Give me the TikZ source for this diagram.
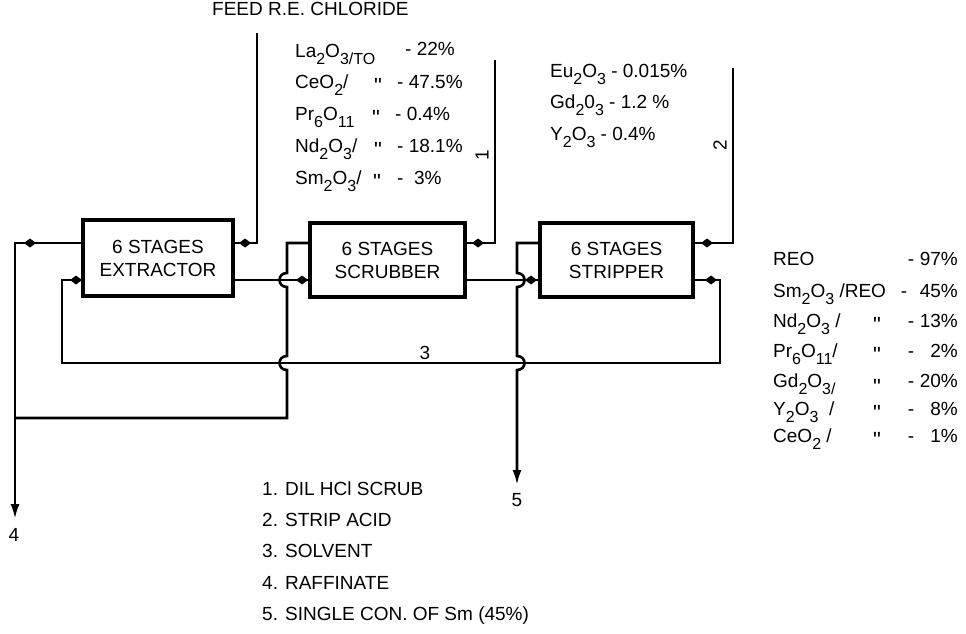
\documentclass[tikz,border=0pt]{standalone}
\usepackage{fontspec}
\setmainfont{Liberation Sans}
\usetikzlibrary{arrows.meta,calc}
\newcommand\sbs[1]{\raisebox{-0.36em}{\fontsize{16}{16}\selectfont #1}}
\newcommand\dit{\raisebox{-6.5pt}{\fontsize{22}{22}\selectfont\textquotedbl}}
\newcommand\fdot[1]{\fill #1 +(-6,0) -- +(0,-4.5) -- +(6,0) -- +(0,4.5) -- cycle;}
\tikzset{
  stage/.style={draw, line width=3.2pt, align=center, inner sep=0pt,
    font=\fontsize{19}{23}\selectfont},
  pipe/.style={line width=2.6pt},
  lbl/.style={inner sep=0pt, font=\fontsize{19}{23}\selectfont},
  endarrow/.style={-{Latex[length=15pt,width=9pt]}}
}
\begin{document}
\begin{tikzpicture}[x=1pt,y=-1pt]
\useasboundingbox (0,0) rectangle (966,634);
\fill[white] (0,0) rectangle (966,634);

% boxes
\node[stage, minimum width=150pt, minimum height=76pt] (ext) at (158,258) {6 STAGES\\EXTRACTOR};
\node[stage, minimum width=155pt, minimum height=74pt] (scr) at (387.5,260) {6 STAGES\\SCRUBBER};
\node[stage, minimum width=153pt, minimum height=74pt] (str) at (616.5,260) {6 STAGES\\STRIPPER};

% labels
\node[lbl, anchor=mid west] (feed) at (212,13) {FEED R.E. CHLORIDE};
\node[lbl] (n1) at (482,155) [rotate=90] {1};
\node[lbl] (n2) at (720,145) [rotate=90] {2};
\node[lbl] (n3) at (425,353) {3};
\node[lbl] (n4) at (14,535) {4};
\node[lbl] (n5) at (517,500) {5};

% named coordinates
\coordinate (feedT) at (257,33);
\coordinate (feedC) at (257,243);
\coordinate (raffC) at (15,243);
\coordinate (raffJ) at (15,418);
\coordinate (raffE) at (15,519);
\coordinate (s1) at (62,280);
\coordinate (s2) at (62,363);
\coordinate (s3) at (720,363);
\coordinate (s4) at (720,280);
\coordinate (sc1) at (495,60);
\coordinate (sc2) at (495,243);
\coordinate (sa1) at (733,68);
\coordinate (sa2) at (733,243);
\coordinate (q1) at (287,243);
\coordinate (q2) at (287,418);
\coordinate (p1) at (517,243);
\coordinate (p2) at (517,485);
\coordinate (o1) at (300,280);
\coordinate (o2) at (530,280);

% feed
\draw[pipe] (feedT) -- (feedC) -- (ext.east |- feedC);
\fdot{(245,243)}
% raffinate
\draw[pipe, endarrow] (ext.west |- raffC) -- (raffC) -- (raffJ) -- (raffE);
\fdot{(30,243)}
% solvent loop
\draw[pipe] (str.east |- s4) -- (s4) -- (s3) -- (s2) -- (s1) -- (ext.west |- s1);
\fdot{(76,280)}
\fdot{(711,280)}
% scrub acid
\draw[pipe] (sc1) -- (sc2) -- (scr.east |- sc2);
\fdot{(478,243)}
% strip acid
\draw[pipe] (sa1) -- (sa2) -- (str.east |- sa2);
\fdot{(707,243)}
% loaded organic
\draw[pipe] (ext.east |- o1) -- (scr.west |- o1);
\fdot{(302,280)}
\draw[pipe] (scr.east |- o2) -- (str.west |- o2);
\fdot{(531,280)}
% scrub liquor
\draw[pipe] (scr.west |- q1) -- (q1) -- (287,273)
  .. controls (277,273) and (277,287) .. (287,287) -- (287,356)
  .. controls (277,356) and (277,370) .. (287,370) -- (q2) -- (raffJ);
% strip liquor
\draw[pipe, endarrow] (str.west |- p1) -- (p1) -- (517,273)
  .. controls (527,273) and (527,287) .. (517,287) -- (517,356)
  .. controls (527,356) and (527,370) .. (517,370) -- (p2);

% top composition
\node[lbl, anchor=mid west] (t1) at (295,55) {La\sbs{2}O\sbs{3/TO}};
\node[lbl, anchor=mid west] (t1v) at (405,53) {- 22\%};
\node[lbl, anchor=mid west] (t2) at (295,86) {CeO\sbs{2}/};
\node[lbl] (t2d) at (378,86) {\dit};
\node[lbl, anchor=mid west] (t2v) at (397,86) {- 47.5\%};
\node[lbl, anchor=mid west] (t3) at (295,118) {Pr\sbs{6}O\sbs{11}};
\node[lbl] (t3d) at (376,118) {\dit};
\node[lbl, anchor=mid west] (t3v) at (395,118) {- 0.4\%};
\node[lbl, anchor=mid west] (t4) at (295,150) {Nd\sbs{2}O\sbs{3}/};
\node[lbl] (t4d) at (378,150) {\dit};
\node[lbl, anchor=mid west] (t4v) at (397,150) {- 18.1\%};
\node[lbl, anchor=mid west] (t5) at (295,182) {Sm\sbs{2}O\sbs{3}/};
\node[lbl] (t5d) at (377,182) {\dit};
\node[lbl, anchor=mid west] (t5v) at (397,182) {- \ 3\%};

\node[lbl, anchor=mid west] (e1) at (550,75) {Eu\sbs{2}O\sbs{3} - 0.015\%};
\node[lbl, anchor=mid west] (e2) at (550,106) {Gd\sbs{2}0\sbs{3} - 1.2 \%};
\node[lbl, anchor=mid west] (e3) at (550,138) {Y\sbs{2}O\sbs{3} - 0.4\%};

% product table
\node[lbl, anchor=mid west] (r1) at (773,263) {REO};
\node[lbl] (r1h) at (911,263) {-};
\node[lbl, anchor=mid east] (r1v) at (958,263) {97\%};
\node[lbl, anchor=mid west] (r2) at (773,295) {Sm\sbs{2}O\sbs{3} /REO};
\node[lbl] (r2h) at (904,295) {-};
\node[lbl, anchor=mid east] (r2v) at (958,295) {45\%};
\node[lbl, anchor=mid west] (r3) at (773,325) {Nd\sbs{2}O\sbs{3} /};
\node[lbl] (r3d) at (877,325) {\dit};
\node[lbl] (r3h) at (911,325) {-};
\node[lbl, anchor=mid east] (r3v) at (958,325) {13\%};
\node[lbl, anchor=mid west] (r4) at (773,355) {Pr\sbs{6}O\sbs{11}/};
\node[lbl] (r4d) at (877,355) {\dit};
\node[lbl] (r4h) at (911,355) {-};
\node[lbl, anchor=mid east] (r4v) at (958,355) {2\%};
\node[lbl, anchor=mid west] (r5) at (773,385) {Gd\sbs{2}O\sbs{3/}};
\node[lbl] (r5d) at (877,387) {\dit};
\node[lbl] (r5h) at (911,385) {-};
\node[lbl, anchor=mid east] (r5v) at (958,385) {20\%};
\node[lbl, anchor=mid west] (r6) at (773,413) {Y\sbs{2}O\sbs{3} \ /};
\node[lbl] (r6d) at (877,413) {\dit};
\node[lbl] (r6h) at (911,413) {-};
\node[lbl, anchor=mid east] (r6v) at (958,413) {8\%};
\node[lbl, anchor=mid west] (r7) at (773,440) {CeO\sbs{2} /};
\node[lbl] (r7d) at (877,440) {\dit};
\node[lbl] (r7h) at (911,440) {-};
\node[lbl, anchor=mid east] (r7v) at (958,440) {1\%};

% legend
\node[lbl, anchor=mid west] (l1) at (262,493) {1. DIL HCl SCRUB};
\node[lbl, anchor=mid west] (l2) at (262,524) {2. STRIP ACID};
\node[lbl, anchor=mid west] (l3) at (262,555) {3. SOLVENT};
\node[lbl, anchor=mid west] (l4) at (262,587) {4. RAFFINATE};
\node[lbl, anchor=mid west] (l5) at (262,618) {5. SINGLE CON. OF Sm (45\%)};
\end{tikzpicture}
\end{document}
